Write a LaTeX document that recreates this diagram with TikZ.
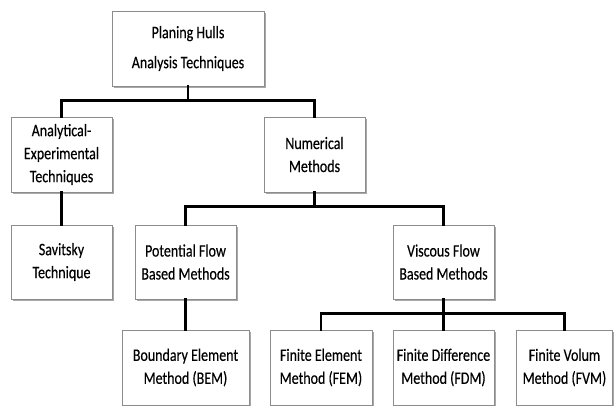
\documentclass[tikz,border=0pt]{standalone}
\usepackage{fontspec}
\setmainfont{Carlito}[FakeStretch=0.8, FakeBold=0.3]
\usetikzlibrary{positioning,shadows}

\tikzset{
    box/.style={draw=black!45, line width=0.6pt, fill=white, align=center,
        inner sep=2pt, minimum height=75pt,
        font=\fontsize{17.5}{23}\selectfont,
        drop shadow={shadow xshift=1.6pt, shadow yshift=-2pt, fill=black!45, opacity=0.75}},
    conn/.style={line width=2.6pt, line cap=rect}
}

\begin{document}
\begin{tikzpicture}[x=1pt,y=-1pt]
        \useasboundingbox[fill=white] (0,0) rectangle (614,406);
        % first level
        \node[box, minimum width=152pt] (hulls) at (188,48.5) {Planing Hulls\\[7pt]Analysis Techniques};
        \node[box, minimum width=101pt] (analyt) at (61.5,154.5) {Analytical-\\Experimental\\Techniques};
        \node[box, minimum width=101pt] (numer) at (314.5,154.5) {Numerical\\Methods};
        % second level
        \node[box, minimum width=101pt, minimum height=74pt] (savit) at (61.5,262) {Savitsky\\Technique};
        \node[box, minimum width=101pt, minimum height=74pt] (potflow) at (185.5,262) {Potential Flow\\Based Methods};
        \node[box, minimum width=101pt, minimum height=74pt] (viscflow) at (443.5,262) {Viscous Flow\\Based Methods};
        % methods
        \node[box, minimum width=127pt] (bem) at (185.5,367.5) {Boundary Element\\Method (BEM)};
        \node[box, minimum width=102pt] (fem) at (321,367.5) {Finite Element\\Method (FEM)};
        \node[box, minimum width=101pt] (fdm) at (443.5,367.5) {Finite Difference\\Method (FDM)};
        \node[box, minimum width=96pt] (fvm) at (564.5,367.5) {Finite Volum\\Method (FVM)};

        \draw[conn] (hulls.south) -- ++(0,14) -| (analyt.north);
        \draw[conn] (hulls.south) -- ++(0,14) -| (numer.north);
        \draw[conn] (analyt.south) -- (savit.north);
        \draw[conn] (numer.south) -- ++(0,14) -| (potflow.north);
        \draw[conn] (numer.south) -- ++(0,14) -| (viscflow.north);
        \draw[conn] (potflow.south) -- (bem.north);
        \draw[conn] (viscflow.south) -- ++(0,14) -| (fem.north);
        \draw[conn] (viscflow.south) -- (fdm.north);
        \draw[conn] (viscflow.south) -- ++(0,14) -| (fvm.north);
\end{tikzpicture}
\end{document}
